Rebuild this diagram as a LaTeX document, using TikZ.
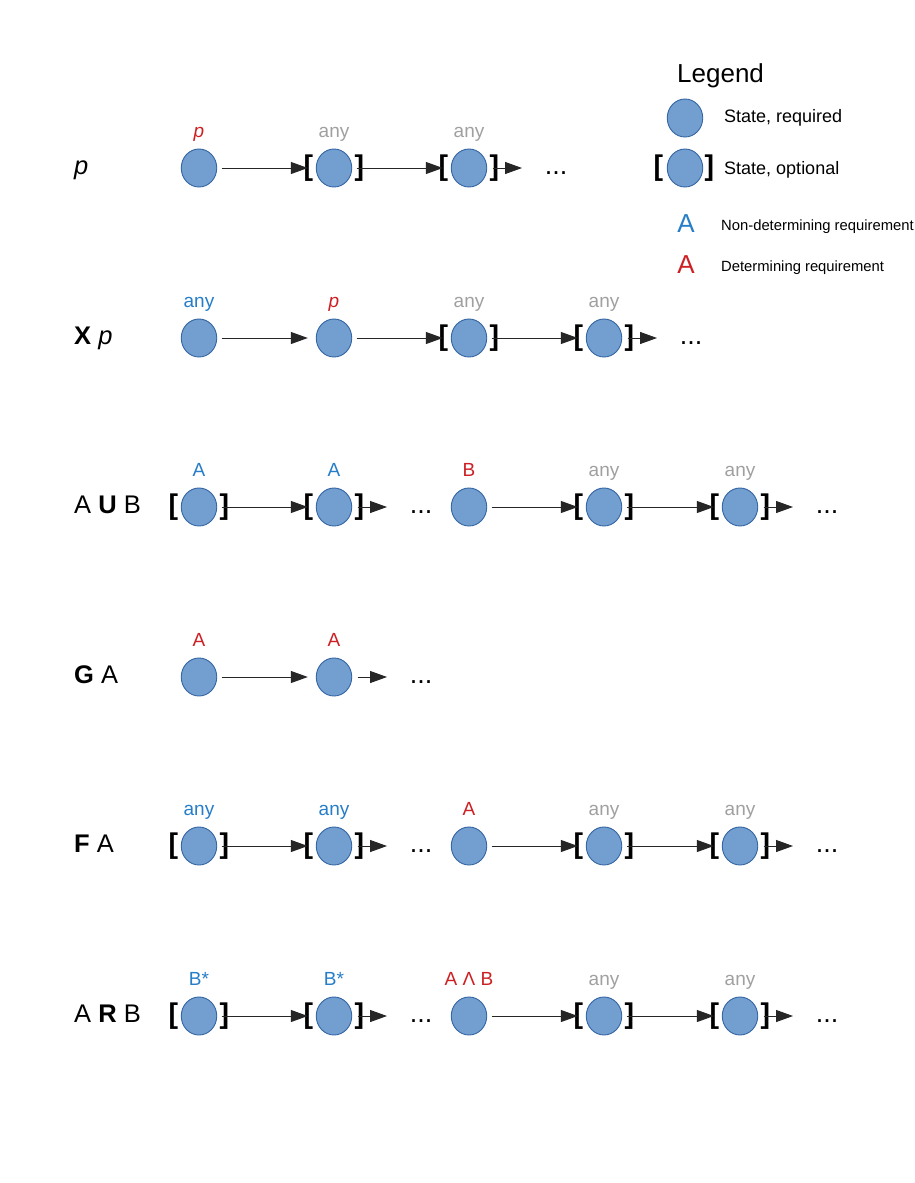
\documentclass[tikz,border=0pt]{standalone}
\usepackage{fontspec}
\setmainfont{Liberation Sans}
\usetikzlibrary{shapes.geometric,arrows.meta}
\definecolor{statefill}{RGB}{114,159,207}
\definecolor{statedraw}{RGB}{52,101,164}
\definecolor{ndblue}{RGB}{38,125,200}
\definecolor{dred}{RGB}{204,32,36}
\definecolor{anygray}{RGB}{160,160,160}
\newcommand\fsz[1]{\fontsize{#1}{#1}\selectfont}
\newcommand\ReqNode[5]{%
  \node[st] (#1) at (#2,#3) {};
  \node[lab,text=#5] (#1t) at (#2,#3-30.5) {#4};}
\newcommand\Brk[3]{%
  \node[brk,anchor=base east] (#1L) at (#2-20.6,#3+7.5) {[};
  \node[brk,anchor=base west] (#1R) at (#2+20.3,#3+7.5) {]};}
\newcommand\OptNode[5]{\ReqNode{#1}{#2}{#3}{#4}{#5}\Brk{#1}{#2}{#3}}
\newcommand\Tail[4]{%
  \coordinate (#1e) at (#3+53,#4);
  \draw[arr,shorten <=5.5pt,shorten >=0pt] (#2) -- (#1e);
  \node[dotsn] (#1) at (#3+87,#4+6.5) {...};}
\tikzset{
  st/.style={ellipse,draw=statedraw,fill=statefill,line width=0.9pt,minimum width=35.5pt,minimum height=38pt,inner sep=0pt},
  lab/.style={anchor=base,inner sep=0pt,font=\fsz{19}},
  brk/.style={inner sep=0pt,font=\fsz{28.5}\bfseries},
  arr/.style={draw=black!85,line width=1pt,-{Triangle[length=17pt,width=12pt]},shorten <=4.5pt,shorten >=8pt},
  dotsn/.style={anchor=base,inner sep=0pt,font=\fsz{27}},
  rowlab/.style={anchor=base west,inner sep=0pt,font=\fsz{25.5}},
  legtxt/.style={anchor=base west,inner sep=0pt,font=\fsz{18}},
  legsmall/.style={anchor=base west,inner sep=0pt,font=\fsz{14.8}},
  legA/.style={anchor=base,inner sep=0pt,font=\fsz{26}}
}
\begin{document}
\begin{tikzpicture}[x=1pt,y=-1pt]
\fill[white] (0,0) rectangle (914,1183);
\useasboundingbox (0,0) rectangle (914,1183);

% Legend
\node[anchor=base west,inner sep=0pt,font=\fsz{26}] (legtitle) at (677,82) {Legend};
\node[st] (legreq) at (685,118) {};
\node[legtxt] (legreqt) at (724,122.5) {State, required};
\node[st] (legopt) at (685,168) {};
\Brk{legopt}{684}{168}
\node[legtxt] (legoptt) at (724,174) {State, optional};
\node[legA,text=ndblue] (legblue) at (686,232) {A};
\node[legsmall] (legbluet) at (721,230) {Non-determining requirement};
\node[legA,text=dred] (legred) at (686,273) {A};
\node[legsmall] (legredt) at (721,271.7) {Determining requirement};

% Row 1: p
\node[rowlab] (l1) at (74,174) {\textit{p}};
\ReqNode{a1}{199}{168}{\textit{p}}{dred}
\OptNode{a2}{334}{168}{any}{anygray}
\OptNode{a3}{469}{168}{any}{anygray}
\draw[arr] (a1) -- (a2);
\draw[arr] (a2) -- (a3);
\Tail{ad}{a3}{469}{168}

% Row 2: X p
\node[rowlab] (l2) at (74,344) {\textbf{X} \textit{p}};
\ReqNode{b1}{199}{338}{any}{ndblue}
\ReqNode{b2}{334}{338}{\textit{p}}{dred}
\OptNode{b3}{469}{338}{any}{anygray}
\OptNode{b4}{604}{338}{any}{anygray}
\draw[arr] (b1) -- (b2);
\draw[arr] (b2) -- (b3);
\draw[arr] (b3) -- (b4);
\Tail{bd}{b4}{604}{338}

% Row 3: A U B
\node[rowlab] (l3) at (74,513) {A \textbf{U} B};
\OptNode{c1}{199}{507}{A}{ndblue}
\OptNode{c2}{334}{507}{A}{ndblue}
\ReqNode{c3}{469}{507}{B}{dred}
\OptNode{c4}{604}{507}{any}{anygray}
\OptNode{c5}{740}{507}{any}{anygray}
\draw[arr] (c1) -- (c2);
\Tail{cda}{c2}{334}{507}
\draw[arr] (c3) -- (c4);
\draw[arr] (c4) -- (c5);
\Tail{cdb}{c5}{740}{507}

% Row 4: G A
\node[rowlab] (l4) at (74,683) {\textbf{G} A};
\ReqNode{d1}{199}{677}{A}{dred}
\ReqNode{d2}{334}{677}{A}{dred}
\draw[arr] (d1) -- (d2);
\Tail{dd}{d2}{334}{677}

% Row 5: F A
\node[rowlab] (l5) at (74,852) {\textbf{F} A};
\OptNode{e1}{199}{846}{any}{ndblue}
\OptNode{e2}{334}{846}{any}{ndblue}
\ReqNode{e3}{469}{846}{A}{dred}
\OptNode{e4}{604}{846}{any}{anygray}
\OptNode{e5}{740}{846}{any}{anygray}
\draw[arr] (e1) -- (e2);
\Tail{eda}{e2}{334}{846}
\draw[arr] (e3) -- (e4);
\draw[arr] (e4) -- (e5);
\Tail{edb}{e5}{740}{846}

% Row 6: A R B
\node[rowlab] (l6) at (74,1022) {A \textbf{R} B};
\OptNode{f1}{199}{1016}{B*}{ndblue}
\OptNode{f2}{334}{1016}{B*}{ndblue}
\ReqNode{f3}{469}{1016}{A Λ B}{dred}
\OptNode{f4}{604}{1016}{any}{anygray}
\OptNode{f5}{740}{1016}{any}{anygray}
\draw[arr] (f1) -- (f2);
\Tail{fda}{f2}{334}{1016}
\draw[arr] (f3) -- (f4);
\draw[arr] (f4) -- (f5);
\Tail{fdb}{f5}{740}{1016}
\end{tikzpicture}
\end{document}
